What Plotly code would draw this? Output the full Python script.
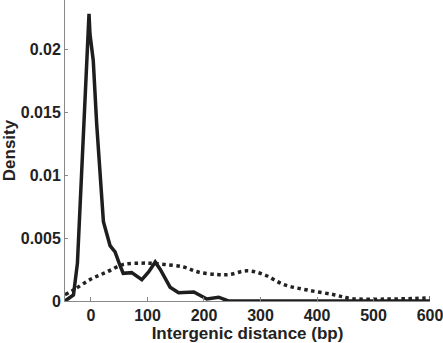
import plotly.graph_objects as go

# Solid curve (observed) : intergenic distance vs density
solid_x = [-46, -31, -24, -16.5, -10.6, -4.7, -3.5, -1.8, 4, 10, 16, 22, 33.7, 42.6, 51.5, 57, 72, 90, 102,
           113.7, 122.6, 140, 155, 170, 182, 205, 226, 243, 300, 400, 500, 600]
solid_y = [0.0, 0.00048, 0.003, 0.0107, 0.016, 0.0226, 0.0228, 0.0212, 0.0191, 0.0141, 0.0101, 0.0063,
           0.0044, 0.0039, 0.0028, 0.0022, 0.00225, 0.0017, 0.0023, 0.0031, 0.0025, 0.0011, 0.00066,
           0.00068, 0.00072, 0.00016, 0.0003, 0.0, 0.0, 0.0, 0.0, 0.0]

# Dotted curve (random expectation)
dot_x = [-46, -31, -1.8, 27.8, 57, 87, 105, 130, 164, 190, 223, 245, 276, 306, 341.6, 383,
         430, 460, 520, 572, 600]
dot_y = [0.0005, 0.00087, 0.0017, 0.0023, 0.0029, 0.0030, 0.0030, 0.0029, 0.0027, 0.0023, 0.0021,
         0.0021, 0.0024, 0.0021, 0.0013, 0.00087, 0.0005, 0.0002, 0.00015, 0.0002, 0.00025]

x_ticks = [0, 100, 200, 300, 400, 500, 600]
y_ticks = [0, 0.005, 0.01, 0.015, 0.02]
y_ticktext = ["0", "0.005", "0.01", "0.015", "0.02"]

fig = go.Figure()
fig.add_trace(go.Scatter(x=dot_x, y=dot_y, mode="lines", line_shape="spline",
                         line=dict(color="#222222", width=3.5, dash="dot")))
fig.add_trace(go.Scatter(x=solid_x, y=solid_y, mode="lines",
                         line=dict(color="#1e1e1e", width=3.5)))

font = dict(family="Liberation Sans, Arial, sans-serif", size=16, weight="bold", color="#222222")
tfont = dict(family="Liberation Sans, Arial, sans-serif", size=17, weight="bold", color="#222222")

fig.update_layout(
    width=443, height=343,
    margin=dict(l=65, r=13, t=0, b=42),
    paper_bgcolor="white", plot_bgcolor="white",
    showlegend=False,
    font=font,
)
fig.update_xaxes(range=[-46, 600], tickvals=x_ticks, ticks="inside", ticklen=4, tickcolor="#888888",
                 showline=True, linecolor="#888888", linewidth=1, showgrid=False, zeroline=False,
                 ticklabeloverflow="allow",
                 tickfont=font, title=dict(text="Intergenic distance (bp)", font=tfont, standoff=1))
fig.update_yaxes(range=[0, 0.0239], tickvals=y_ticks, ticktext=y_ticktext, ticks="inside", ticklen=3,
                 tickcolor="#888888", showline=True, linecolor="#888888", linewidth=1, showgrid=False,
                 zeroline=False, tickfont=font, title=dict(text="Density", font=tfont, standoff=6))

fig.write_html("out.html", config={"displayModeBar": False},
               post_script="document.body.style.margin='0';document.body.style.overflow='hidden';")
